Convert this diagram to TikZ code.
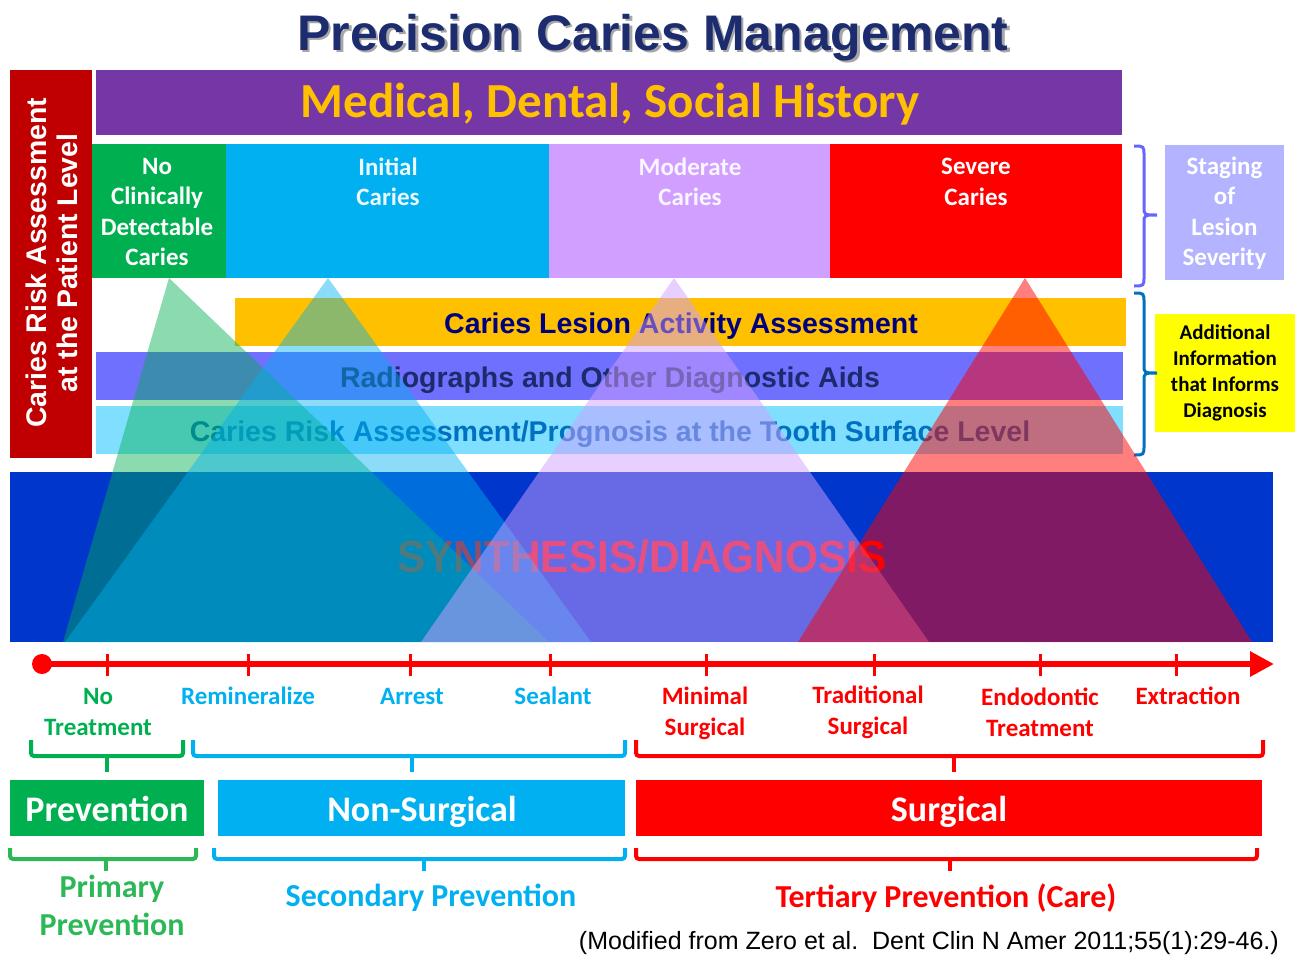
\documentclass[tikz,border=0pt]{standalone}
\usepackage{fontspec}
\setmainfont{Liberation Sans}
\newfontfamily\calib{Carlito}
\newfontfamily\narrowfont{Liberation Sans Bold}[FakeStretch=0.94]
\usetikzlibrary{arrows.meta}
\definecolor{navy}{HTML}{1C2C6E}
\definecolor{cgreen}{HTML}{00B050}
\definecolor{lgreen}{HTML}{2DB857}
\definecolor{ccyan}{HTML}{00B0F0}
\definecolor{clav}{HTML}{D09FFF}
\definecolor{cred}{HTML}{FF0000}
\definecolor{dred}{HTML}{C00000}
\definecolor{cpurple}{HTML}{7637A6}
\definecolor{cgold}{HTML}{FFC000}
\definecolor{cbluebar}{HTML}{7070FF}
\definecolor{clcyan}{HTML}{80DEFF}
\definecolor{cblue}{HTML}{0036CC}
\definecolor{cstage}{HTML}{B3B3FF}
\definecolor{cbrace}{HTML}{6666FF}
\definecolor{cbrace2}{HTML}{0070C0}
\definecolor{cyel}{HTML}{FFFF00}
\definecolor{darknavy}{HTML}{00007F}
\definecolor{radnavy}{HTML}{1A2C6B}
\definecolor{crisk}{HTML}{0070C0}
\newcommand\mybrk[7]{%
  \draw[#1, line width=4pt, rounded corners=3pt] (#2,#4) -- (#2,#5) -- (#3,#5) -- (#3,#4);
  \draw[#1, line width=4pt] (#6,#5) -- (#6,#7);}
\begin{document}
\begin{tikzpicture}[x=1pt,y=-1pt,
  rbox/.style={draw=none,inner sep=0pt,outer sep=0pt,anchor=north west},
  stagetxt/.style={font=\calib\bfseries\fontsize{25}{30.5}\selectfont,align=center,inner sep=0pt,text=white},
  bartxt/.style={font=\bfseries\fontsize{28.5}{34}\selectfont,inner sep=0pt,anchor=base},
  tltxt/.style={font=\calib\bfseries\fontsize{25}{31}\selectfont,align=center,inner sep=0pt},
  bigtxt/.style={font=\calib\bfseries\fontsize{36}{40}\selectfont,text=white,inner sep=0pt,anchor=base},
  prevtxt/.style={font=\calib\bfseries\fontsize{32}{38}\selectfont,align=center,inner sep=0pt},
  tick/.style={cred,line width=3pt}
]
\useasboundingbox (0,0) rectangle (1303,961);
% title
\node[font=\bfseries\fontsize{50}{60}\selectfont,text=black!35,anchor=base,inner sep=0pt] (titleshadow) at (655.5,52.5) {Precision Caries Management};
\node[font=\bfseries\fontsize{50}{60}\selectfont,text=navy,anchor=base,inner sep=0pt] (title) at (653,50) {Precision Caries Management};
% patient-level bar
\node[rbox,fill=dred,minimum width=82pt,minimum height=388pt] (patient) at (10,70) {};
\node[rotate=90,text=white,font=\bfseries\fontsize{28.4}{31}\selectfont,align=center,inner sep=0pt] (patienttxt) at (52,263) {Caries Risk Assessment\\at the Patient Level};
% history bar
\node[rbox,fill=cpurple,minimum width=1026pt,minimum height=65pt] (history) at (96,70) {};
\node[font=\calib\bfseries\fontsize{49}{55}\selectfont,text=cgold,inner sep=0pt] (historytxt) at (610,104) {Medical, Dental, Social History};
% staging boxes
\node[rbox,fill=cgreen,minimum width=134pt,minimum height=134pt] (nocar) at (92,144) {};
\node[rbox,fill=ccyan,minimum width=323pt,minimum height=134pt] (initial) at (226,144) {};
\node[rbox,fill=clav,minimum width=281pt,minimum height=134pt] (moderate) at (549,144) {};
\node[rbox,fill=cred,minimum width=292pt,minimum height=134pt] (severe) at (830,144) {};
\node[stagetxt] (nocartxt) at (157,212) {No\\Clinically\\Detectable\\Caries};
\node[stagetxt,text=white!92!ccyan] (initialtxt) at (388,182) {Initial\\Caries};
\node[stagetxt,text=white!90!clav] (moderatetxt) at (690,182) {Moderate\\Caries};
\node[stagetxt] (severetxt) at (976,182) {Severe\\Caries};
% right side
\node[rbox,fill=cstage,minimum width=119pt,minimum height=135pt] (stage) at (1165,145) {};
\node[stagetxt] (stagetxt) at (1224.5,213) {Staging\\of\\Lesion\\Severity};
\node[rbox,fill=cyel,minimum width=140pt,minimum height=118pt] (addinfo) at (1155,314) {};
\node[font=\calib\bfseries\fontsize{21}{26}\selectfont,align=center,inner sep=0pt] (addinfotxt) at (1225,373) {Additional\\Information\\that Informs\\Diagnosis};
\draw[cbrace,line width=3pt] (1134,146) .. controls (1144,146) .. (1144,156) -- (1144,207) .. controls (1144,215) .. (1157,215) .. controls (1144,215) .. (1144,223) -- (1144,276) .. controls (1144,286) .. (1134,286);
\draw[cbrace2,line width=3pt] (1134,293) .. controls (1144,293) .. (1144,303) -- (1144,365) .. controls (1144,373) .. (1157,373) .. controls (1144,373) .. (1144,381) -- (1144,445) .. controls (1144,455) .. (1134,455);
% info bars
\node[rbox,fill=cgold,minimum width=891pt,minimum height=48pt] (activity) at (235,298) {};
\node[rbox,fill=cbluebar,minimum width=1027pt,minimum height=48pt] (radio) at (96,352) {};
\node[rbox,fill=clcyan,minimum width=1027pt,minimum height=48pt] (risk) at (96,406) {};
\node[bartxt,text=darknavy] (activitytxt) at (681,333) {Caries Lesion Activity Assessment};
\node[bartxt,text=radnavy] (radiotxt) at (610,387) {Radiographs and Other Diagnostic Aids};
\node[bartxt,text=crisk] (risktxt) at (610,441) {Caries Risk Assessment/Prognosis at the Tooth Surface Level};
% synthesis band
\node[rbox,fill=cblue,minimum width=1263pt,minimum height=170pt] (synth) at (10,472) {};
\node[font=\narrowfont\fontsize{45}{50}\selectfont,text=cred,inner sep=0pt] (synthtxt) at (642,557) {SYNTHESIS/DIAGNOSIS};
% triangles
\fill[cgreen,opacity=0.45] (169,278) -- (63,642) -- (549,642) -- cycle;
\fill[ccyan,opacity=0.45] (328,278) -- (65,642) -- (591,642) -- cycle;
\fill[clav,opacity=0.5] (674,278) -- (421,642) -- (929,642) -- cycle;
\fill[cred,opacity=0.5] (1025,278) -- (798,642) -- (1252,642) -- cycle;
% timeline
\node[circle,fill=cred,minimum size=20pt,inner sep=0pt] (start) at (42,664) {};
\coordinate (end) at (1274,664);
\draw[cred,line width=6pt,-{Triangle[length=24pt,width=24pt]}] (start.center) -- (end);
\foreach \x in {107,248,410,550,706,874,1040,1176} \draw[tick] (\x,654) -- (\x,676);
\node[tltxt,text=cgreen] (notreat) at (98,712) {No\\Treatment};
\node[tltxt,text=ccyan] (remin) at (248,696) {Remineralize};
\node[tltxt,text=ccyan] (arrest) at (412,696) {Arrest};
\node[tltxt,text=ccyan] (sealant) at (553,696) {Sealant};
\node[tltxt,text=cred] (minimal) at (705,713) {Minimal\\Surgical};
\node[tltxt,text=cred] (tradit) at (868,712) {Traditional\\Surgical};
\node[tltxt,text=cred] (endo) at (1040,712) {Endodontic\\Treatment};
\node[tltxt,text=cred] (extract) at (1188,696) {Extraction};
% upper brackets
\mybrk{cgreen}{31}{183}{740}{756}{107}{772}
\mybrk{ccyan}{193}{625}{740}{756}{412}{772}
\mybrk{cred}{636}{1263}{740}{756}{954}{772}
% category boxes
\node[rbox,fill=cgreen,minimum width=194pt,minimum height=56pt] (prev) at (10,780) {};
\node[rbox,fill=ccyan,minimum width=407pt,minimum height=56pt] (nonsurg) at (218,780) {};
\node[rbox,fill=cred,minimum width=626pt,minimum height=56pt] (surg) at (636,780) {};
\node[bigtxt] (prevtxt) at (107,821) {Prevention};
\node[bigtxt] (nonsurgtxt) at (422,821) {Non-Surgical};
\node[bigtxt] (surgtxt) at (949,821) {Surgical};
% lower brackets
\mybrk{lgreen}{10}{196}{848}{859}{106}{871}
\mybrk{ccyan}{214}{625}{848}{859}{424}{871}
\mybrk{cred}{636}{1257}{848}{859}{950}{871}
\node[prevtxt,text=lgreen] (primary) at (112,905) {Primary\\Prevention};
\node[prevtxt,text=ccyan] (secondary) at (431,898) {Secondary Prevention};
\node[prevtxt,text=cred] (tertiary) at (946,898) {Tertiary Prevention (Care)};
% citation
\node[font=\fontsize{25}{28}\selectfont,anchor=east,inner sep=0pt] (cite) at (1279,943) {(Modified from Zero et al.\ \ Dent Clin N Amer 2011;55(1):29-46.)};
\end{tikzpicture}
\end{document}
